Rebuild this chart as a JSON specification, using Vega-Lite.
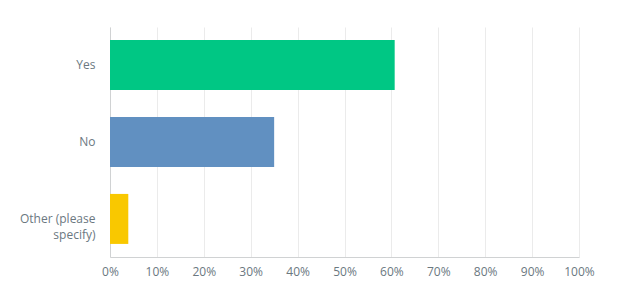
{
  "$schema": "https://vega.github.io/schema/vega-lite/v6.json",
  "width": 469,
  "height": 230,
  "autosize": {"type": "none"},
  "padding": {"left": 110, "top": 27, "right": 43, "bottom": 39},
  "background": "white",
  "data": {"values": [
    {"answer": "Yes", "pct": 0.607},
    {"answer": "No", "pct": 0.35},
    {"answer": "Other (please specify)", "pct": 0.039}
  ]},
  "mark": {"type": "bar"},
  "encoding": {
    "y": {
      "field": "answer", "type": "nominal", "sort": null,
      "scale": {"paddingInner": 0.35, "paddingOuter": 0.17},
      "axis": {
        "title": null, "ticks": false, "domain": true, "domainColor": "#d0d2d3",
        "labelColor": "#6b787f", "labelFont": "Open Sans", "labelFontSize": 12,
        "labelPadding": 15, "labelLineHeight": 16,
        "labelExpr": "datum.label == 'Other (please specify)' ? ['Other (please', 'specify)'] : datum.label"
      }
    },
    "x": {
      "field": "pct", "type": "quantitative",
      "scale": {"domain": [0, 1], "nice": false},
      "axis": {
        "title": null, "format": ".0%", "values": [0, 0.1, 0.2, 0.3, 0.4, 0.5, 0.6, 0.7, 0.8, 0.9, 1],
        "ticks": false, "domainColor": "#d0d2d3", "gridColor": "#ebebeb",
        "labelColor": "#6b787f", "labelFont": "Open Sans", "labelFontSize": 12,
        "labelPadding": 9, "labelFlush": false, "labelOverlap": false
      }
    },
    "color": {
      "field": "answer", "type": "nominal", "legend": null,
      "scale": {"domain": ["Yes", "No", "Other (please specify)"], "range": ["#00c784", "#6190c1", "#f9c800"]}
    }
  },
  "config": {"view": {"stroke": null}}
}
